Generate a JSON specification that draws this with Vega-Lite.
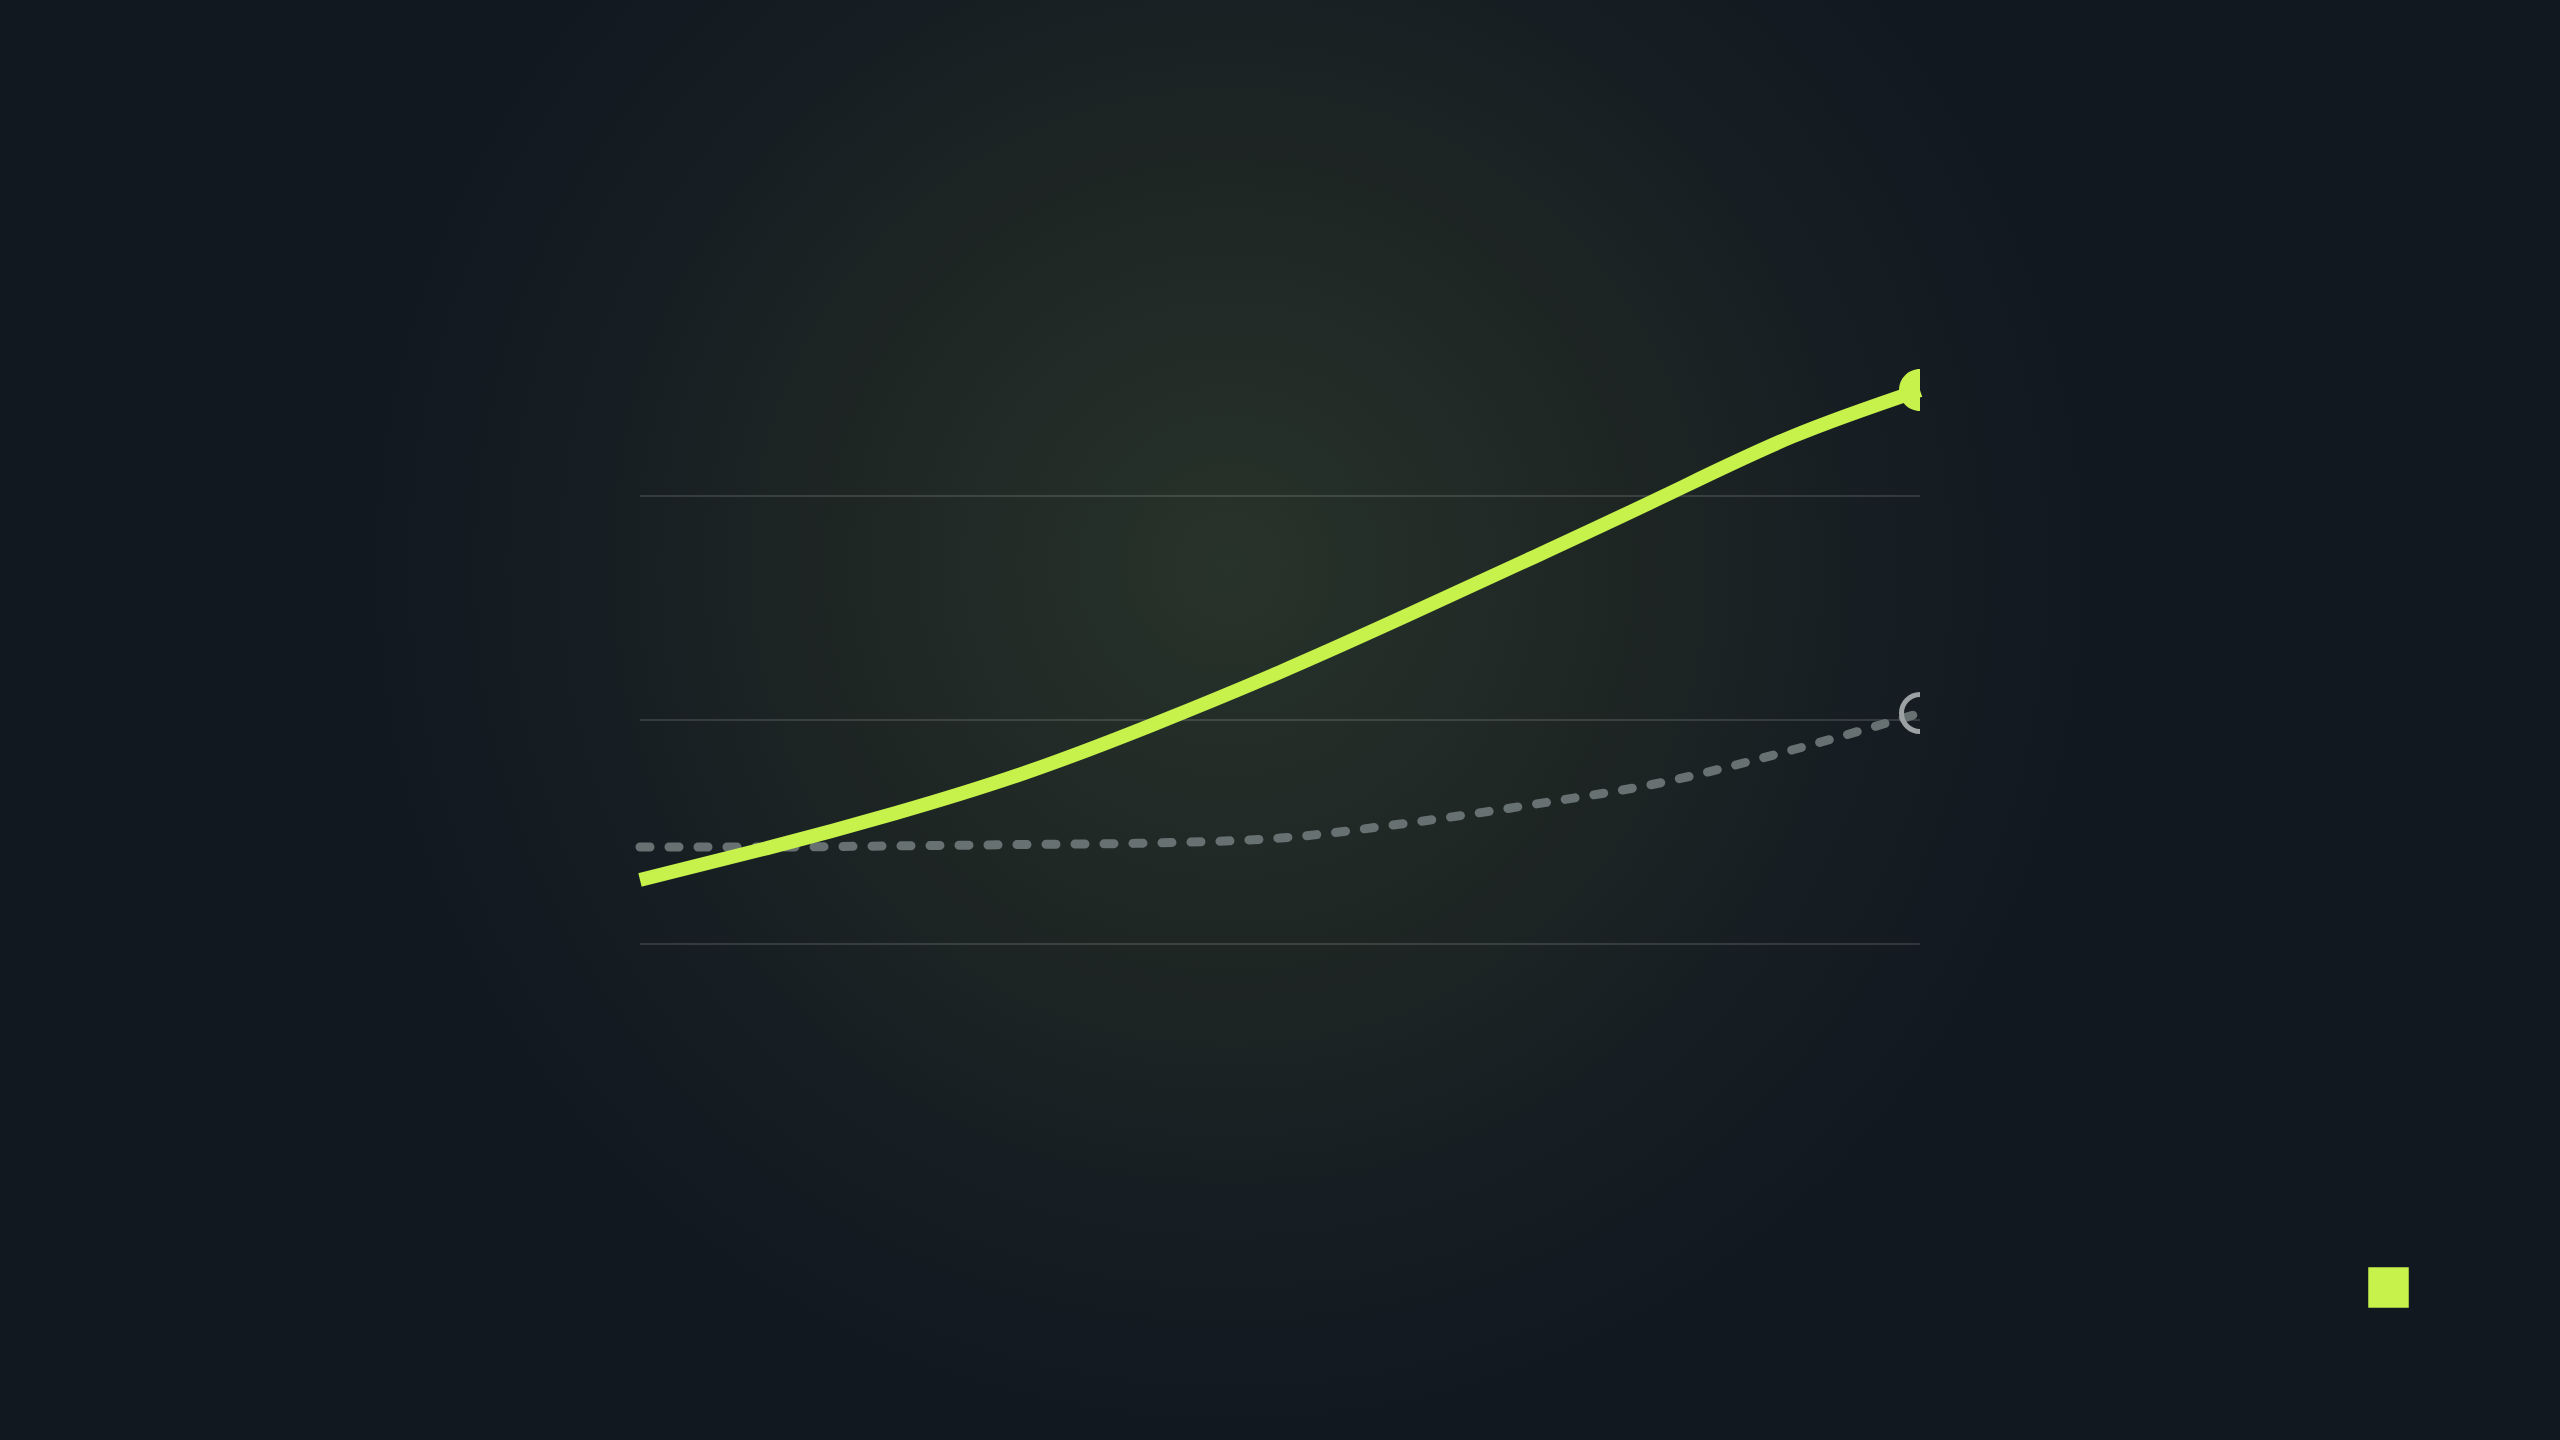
{
  "$schema": "https://vega.github.io/schema/vega-lite/v6.json",
  "width": 2560,
  "height": 1440,
  "autosize": {"type": "fit", "contains": "padding"},
  "padding": 0,
  "background": "#111820",
  "config": {
    "view": {
      "stroke": null,
      "fill": {
        "gradient": "radial",
        "x1": 0.48, "y1": 0.44, "r1": 0,
        "x2": 0.48, "y2": 0.44, "r2": 0.34,
        "stops": [
          {"offset": 0, "color": "#28332b"},
          {"offset": 0.45, "color": "#1e2624"},
          {"offset": 0.8, "color": "#151c22"},
          {"offset": 1, "color": "#111820"}
        ]
      }
    }
  },
  "datasets": {
    "series": [
      {"t": 0, "series": "Actual", "v": 2.86},
      {"t": 10, "series": "Actual", "v": 4.29},
      {"t": 20, "series": "Actual", "v": 5.85},
      {"t": 30, "series": "Actual", "v": 7.63},
      {"t": 40, "series": "Actual", "v": 9.78},
      {"t": 50, "series": "Actual", "v": 12.14},
      {"t": 60, "series": "Actual", "v": 14.69},
      {"t": 70, "series": "Actual", "v": 17.32},
      {"t": 80, "series": "Actual", "v": 20.0},
      {"t": 90, "series": "Actual", "v": 22.65},
      {"t": 100, "series": "Actual", "v": 24.73},
      {"t": 0, "series": "Baseline", "v": 4.33},
      {"t": 10, "series": "Baseline", "v": 4.33},
      {"t": 20, "series": "Baseline", "v": 4.38},
      {"t": 30, "series": "Baseline", "v": 4.44},
      {"t": 40, "series": "Baseline", "v": 4.51},
      {"t": 50, "series": "Baseline", "v": 4.73},
      {"t": 60, "series": "Baseline", "v": 5.4},
      {"t": 70, "series": "Baseline", "v": 6.25},
      {"t": 80, "series": "Baseline", "v": 7.23},
      {"t": 90, "series": "Baseline", "v": 8.66},
      {"t": 100, "series": "Baseline", "v": 10.31}
    ],
    "grid": [
      {"g": 0},
      {"g": 10},
      {"g": 20}
    ]
  },
  "layer": [
    {
      "data": {"name": "grid"},
      "mark": {"type": "rule", "color": "#ffffff", "opacity": 0.13, "strokeWidth": 2},
      "encoding": {
        "y": {"field": "g", "type": "quantitative", "axis": null,
              "scale": {"domain": [0, 20], "range": [944, 496], "nice": false, "zero": false}},
        "x": {"datum": 0, "type": "quantitative", "axis": null,
              "scale": {"domain": [0, 100], "range": [640, 1920], "nice": false}},
        "x2": {"datum": 100}
      }
    },
    {
      "data": {"name": "series"},
      "transform": [{"filter": "datum.series === 'Baseline'"}],
      "mark": {"type": "line", "interpolate": "monotone", "color": "#687172",
               "strokeWidth": 9, "strokeDash": [10, 19], "strokeCap": "round"},
      "encoding": {
        "x": {"field": "t", "type": "quantitative"},
        "y": {"field": "v", "type": "quantitative"}
      }
    },
    {
      "data": {"name": "series"},
      "transform": [{"filter": "datum.series === 'Actual'"}],
      "mark": {"type": "line", "interpolate": "natural", "strokeWidth": 14, "strokeCap": "butt"},
      "encoding": {
        "x": {"field": "t", "type": "quantitative"},
        "y": {"field": "v", "type": "quantitative"},
        "color": {
          "field": "series", "type": "nominal",
          "scale": {"range": ["#c6f24b"]},
          "legend": {
            "title": null,
            "orient": "none",
            "legendX": 2368,
            "legendY": 1267,
            "padding": 0,
            "symbolType": "square",
            "symbolSize": 1521,
            "labelOpacity": 0,
            "labelFontSize": 1,
            "encode": {
              "symbols": {
                "update": {
                  "fill": {"value": "#c6f24b"},
                  "stroke": {"value": "#7f9e30"},
                  "strokeWidth": {"value": 1.5},
                  "opacity": {"value": 1}
                }
              }
            }
          }
        }
      }
    },
    {
      "data": {"name": "series"},
      "transform": [{"filter": "datum.series === 'Baseline' && datum.t === 100"}],
      "mark": {"type": "point", "filled": false, "shape": "M 0 -1 A 1 1 0 0 0 0 1",
               "size": 1369, "stroke": "#9ca2a4", "strokeWidth": 5, "opacity": 1},
      "encoding": {
        "x": {"field": "t", "type": "quantitative"},
        "y": {"field": "v", "type": "quantitative"}
      }
    },
    {
      "data": {"name": "series"},
      "transform": [{"filter": "datum.series === 'Actual' && datum.t === 100"}],
      "mark": {"type": "point", "filled": true, "shape": "M 0 -1 A 1 1 0 0 0 0 1 Z",
               "size": 1764, "color": "#c6f24b", "opacity": 1},
      "encoding": {
        "x": {"field": "t", "type": "quantitative"},
        "y": {"field": "v", "type": "quantitative"}
      }
    }
  ]
}
